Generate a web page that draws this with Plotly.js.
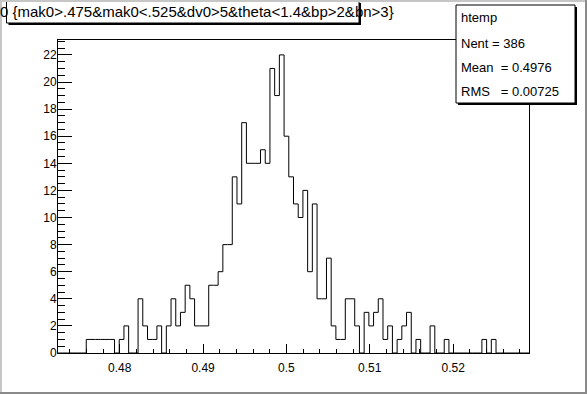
<!DOCTYPE html>
<html><head><meta charset="utf-8">
<script src="https://cdn.plot.ly/plotly-3.0.1.min.js"></script>
<style>html,body{margin:0;padding:0;background:#fff;overflow:hidden;} #plot{width:587px;height:394px;}</style>
</head><body><div id="plot"></div>
<script>
// ---- data ----
const binLow = 0.4726;
const binHigh = 0.5291;
const counts = [
  0,0,0,0,0,0,1,1,1,1,
  1,1,0,1,2,0,0,4,2,1,
  1,2,0,2,4,2,3,5,4,2,
  2,2,5,5,6,8,8,13,11,17,
  14,14,14,15,14,21,19,22,16,13,
  11,10,12,6,11,4,4,7,2,1,
  1,4,4,2,0,3,2,3,4,1,
  2,0,1,2,3,0,1,0,0,2,
  0,0,1,0,0,0,0,0,0,0,
  1,0,1,0,0,0,0,0,0,0
];
const xTickVals = [0.48, 0.49, 0.50, 0.51, 0.52];
const xTickText = ["0.48", "0.49", "0.5", "0.51", "0.52"];
const yTickVals = [0, 2, 4, 6, 8, 10, 12, 14, 16, 18, 20, 22];
const yTickText = ["0", "2", "4", "6", "8", "10", "12", "14", "16", "18", "20", "22"];
const yMax = 23.1;
const titleText = "0 {mak0>.475&mak0<.525&dv0>5&theta<1.4&bp>2&bn>3}";
const statsName = "htemp";
const statsLines = ["Nent = 386", "Mean  = 0.4976", "RMS   = 0.00725"];

// ---- geometry helpers ----
const W = 587, H = 394, L = 58, R = 529, T = 40, B = 353;
function px(x) { return (x - L) / (R - L); }
function py(y) { return (B - y) / (B - T); }

const nb = counts.length;
const bw = (binHigh - binLow) / nb;
const xs = [], ys = [];
for (let i = 0; i <= nb; i++) {
  xs.push(binLow + i * bw);
  ys.push(i < nb ? counts[i] : counts[nb - 1]);
}

const FONT = "Liberation Sans, Arial, Helvetica, sans-serif";

const trace = {
  type: "scatter", mode: "lines", x: xs, y: ys,
  line: { shape: "hv", color: "#000", width: 1 },
  hoverinfo: "skip", showlegend: false
};

const shapes = [
  // stats box shadow + box
  { type: "rect", xref: "paper", yref: "paper", layer: "above",
    x0: px(458), x1: px(577), y0: py(7), y1: py(105),
    fillcolor: "#000", line: { width: 0 } },
  { type: "rect", xref: "paper", yref: "paper", layer: "above",
    x0: px(456), x1: px(575), y0: py(5), y1: py(103),
    fillcolor: "#fff", line: { color: "#000", width: 1 } },
  // title box shadow + box
  { type: "rect", xref: "paper", yref: "paper", layer: "above",
    x0: px(8.5), x1: px(361), y0: py(3), y1: py(25),
    fillcolor: "#000", line: { width: 0 } },
  { type: "rect", xref: "paper", yref: "paper", layer: "above",
    x0: px(6.5), x1: px(359), y0: py(1), y1: py(23),
    fillcolor: "#fff", line: { color: "#000", width: 1 } },
  // canvas border
  { type: "rect", xref: "paper", yref: "paper", layer: "above",
    x0: px(0), x1: px(2), y0: py(0), y1: py(H),
    fillcolor: "#c6c6c6", line: { width: 0 } },
  { type: "rect", xref: "paper", yref: "paper", layer: "above",
    x0: px(0), x1: px(W), y0: py(0), y1: py(2),
    fillcolor: "#c6c6c6", line: { width: 0 } },
  { type: "rect", xref: "paper", yref: "paper", layer: "above",
    x0: px(W - 2), x1: px(W), y0: py(0), y1: py(H),
    fillcolor: "#8a8a8a", line: { width: 0 } },
  { type: "rect", xref: "paper", yref: "paper", layer: "above",
    x0: px(0), x1: px(W), y0: py(H - 2), y1: py(H),
    fillcolor: "#8a8a8a", line: { width: 0 } }
];

const annotations = [
  { xref: "paper", yref: "paper", x: px(-1), y: py(12), xanchor: "left", yanchor: "middle",
    text: titleText, showarrow: false, borderpad: 0,
    font: { family: FONT, size: 15, color: "#000" } },
  { xref: "paper", yref: "paper", x: px(460), y: py(18), xanchor: "left", yanchor: "middle",
    text: statsName, showarrow: false, borderpad: 0,
    font: { family: FONT, size: 13, color: "#000" } }
];
const statsY = [43, 67, 91];
statsLines.forEach((s, i) => {
  annotations.push({ xref: "paper", yref: "paper", x: px(460), y: py(statsY[i]),
    xanchor: "left", yanchor: "middle", text: s.replace(/ /g, "&nbsp;"), showarrow: false, borderpad: 0,
    font: { family: FONT, size: 13, color: "#000" } });
});

const layout = {
  width: W, height: H, autosize: false,
  margin: { l: L, r: W - R, t: T, b: H - B, pad: 0 },
  paper_bgcolor: "#fff", plot_bgcolor: "#fff",
  showlegend: false,
  xaxis: {
    range: [binLow, binHigh], showgrid: false, zeroline: false,
    showline: true, mirror: true, linecolor: "#000", linewidth: 1,
    ticks: "inside", ticklen: 9, tickwidth: 1, tickcolor: "#000",
    tickmode: "array", tickvals: xTickVals, ticktext: xTickText,
    ticklabelstandoff: 4,
    tickfont: { family: FONT, size: 12, color: "#000" },
    minor: { dtick: 0.002, tick0: 0, ticks: "inside", ticklen: 4.5, tickcolor: "#000", tickwidth: 1, showgrid: false }
  },
  yaxis: {
    range: [0, yMax], showgrid: false, zeroline: false,
    showline: true, mirror: true, linecolor: "#000", linewidth: 1,
    ticks: "inside", ticklen: 14, tickwidth: 1, tickcolor: "#000",
    tickmode: "array", tickvals: yTickVals, ticktext: yTickText,
    ticklabelstandoff: -2,
    tickfont: { family: FONT, size: 12, color: "#000" },
    minor: { dtick: 0.5, tick0: 0, ticks: "inside", ticklen: 7, tickcolor: "#000", tickwidth: 1, showgrid: false }
  },
  shapes: shapes,
  annotations: annotations
};

Plotly.newPlot("plot", [trace], layout, { displayModeBar: false, staticPlot: true });
</script>
</body></html>
